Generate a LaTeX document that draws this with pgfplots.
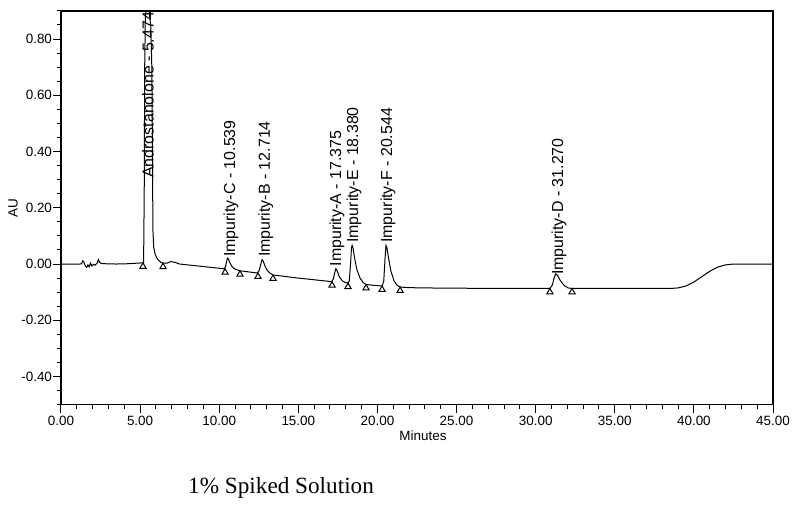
\documentclass[border=0pt]{standalone}
\usepackage{pgfplots}
\pgfplotsset{compat=1.18}
\usepackage{fontspec}
\setmainfont{Liberation Sans}
\newfontfamily\capfont{Liberation Serif}
\tikzset{peak/.style={rotate=90, anchor=west, inner sep=0pt, font=\fontsize{16}{18}\selectfont}}

\begin{document}
\begin{tikzpicture}
\begin{axis}[
  scale only axis, width=712bp, height=393.75bp,
  xmin=0, xmax=45, ymin=-0.5, ymax=0.9,
  xtick={0,5,10,15,20,25,30,35,40,45},
  xticklabels={0.00,5.00,10.00,15.00,20.00,25.00,30.00,35.00,40.00,45.00},
  minor xtick={0,1,...,45},
  ytick={-0.4,-0.2,0,0.2,0.4,0.6,0.8},
  yticklabels={-0.40,-0.20,0.00,0.20,0.40,0.60,0.80},
  minor ytick={-0.5,-0.45,...,0.9},
  tick align=outside, tick pos=left,
  major tick length=8bp, minor tick length=4bp,
  every tick/.style={black, line width=1bp},
  axis line style={line width=1.4bp},
  ticklabel style={font=\fontsize{13.5}{15}\selectfont},
  yticklabel style={xshift=2.5bp},
  xlabel={Minutes}, ylabel={AU},
  label style={font=\fontsize{13.5}{15}\selectfont},
  xlabel style={at={(axis description cs:0.5084,-0.0797)}, anchor=center},
  ylabel style={at={(axis description cs:-0.0674,0.5)}, anchor=center},
]
% detector trace
\addplot[black, line width=1bp] coordinates {
(0,0) (1.2,0.0) (1.30,0.001) (1.38,0.012) (1.45,0.006) (1.55,-0.008) (1.62,-0.012)
(1.70,-0.003) (1.78,-0.010) (1.86,0.003) (1.95,-0.007) (2.05,-0.001) (2.15,-0.004)
(2.28,0.003) (2.36,0.016) (2.44,0.006) (2.55,0.002) (2.8,0.001) (3.5,0.0) (4.2,0.001)
(4.8,0.003) (5.1,0.004) (5.22,0.004) (5.26,0.25) (5.29,0.70) (5.33,0.88) (5.40,0.905)
(5.48,0.91) (5.58,0.895) (5.68,0.84) (5.74,0.70) (5.78,0.40) (5.81,0.12) (5.86,0.06)
(5.95,0.035) (6.05,0.022) (6.15,0.014) (6.30,0.007) (6.45,0.003) (6.7,0.003)
(6.95,0.009) (7.2,0.006) (7.5,0.0) (8.0,-0.003) (9.0,-0.009) (10.0,-0.015)
(10.30,-0.017) (10.40,-0.010) (10.46,0.008) (10.52,0.021) (10.58,0.018) (10.68,0.004)
(10.82,-0.010) (11.0,-0.018) (11.3,-0.024) (12.0,-0.029)
(12.40,-0.032) (12.52,-0.024) (12.62,-0.002) (12.70,0.015) (12.78,0.010) (12.90,-0.008)
(13.05,-0.024) (13.25,-0.034) (13.40,-0.039) (14.0,-0.043) (15.0,-0.050) (16.0,-0.056)
(17.0,-0.062) (17.10,-0.063) (17.22,-0.052) (17.30,-0.030) (17.375,-0.017) (17.45,-0.024)
(17.58,-0.044) (17.78,-0.060) (18.0,-0.066) (18.12,-0.068)
(18.22,-0.060) (18.30,0.0) (18.36,0.058) (18.40,0.066) (18.46,0.055) (18.56,0.020)
(18.70,-0.020) (18.90,-0.050) (19.10,-0.066) (19.30,-0.073) (20.0,-0.077)
(20.30,-0.078) (20.40,-0.060) (20.48,0.020) (20.54,0.066) (20.60,0.058) (20.70,0.022)
(20.85,-0.025) (21.05,-0.060) (21.25,-0.076) (21.45,-0.082) (22.0,-0.084) (23.0,-0.085)
(25.0,-0.086) (30.0,-0.087) (30.90,-0.087) (31.05,-0.075) (31.18,-0.047) (31.27,-0.035)
(31.38,-0.040) (31.55,-0.058) (31.80,-0.076) (32.05,-0.085) (32.30,-0.087)
(35.0,-0.087) (38.5,-0.087) (39.0,-0.085) (39.5,-0.078) (40.0,-0.064) (40.5,-0.045)
(41.0,-0.026) (41.5,-0.011) (42.0,-0.003) (42.5,0.0) (45.0,0.0)
};
% integration start/end marks
\addplot[only marks, mark=triangle, mark size=3.6bp,
  mark options={black, line width=1bp, yshift=-3.6bp}] coordinates {
(5.18,0.004) (6.45,0.003) (10.37,-0.017) (11.31,-0.024) (12.45,-0.032) (13.40,-0.039)
(17.13,-0.063) (18.14,-0.068) (19.28,-0.073) (20.29,-0.078) (21.43,-0.082)
(30.90,-0.087) (32.30,-0.087)
};
\node[peak] at (axis cs:5.50,0.306) {Androstanolone - 5.474};
\node[peak] at (axis cs:10.75,0.025) {Impurity-C - 10.539};
\node[peak] at (axis cs:12.94,0.025) {Impurity-B - 12.714};
\node[peak] at (axis cs:17.45,-0.009) {Impurity-A - 17.375};
\node[peak] at (axis cs:18.52,0.075) {Impurity-E - 18.380};
\node[peak] at (axis cs:20.67,0.075) {Impurity-F - 20.544};
\node[peak] at (axis cs:31.48,-0.039) {Impurity-D - 31.270};
\end{axis}
\node[anchor=base west, inner sep=0pt, font=\capfont\fontsize{23.3}{26}\selectfont] at (127bp,-88.4bp) {1\% Spiked Solution};
\pgfresetboundingbox
\path[use as bounding box] (-61bp,-99.4bp) rectangle (745bp,404.65bp);
\end{tikzpicture}
\end{document}
